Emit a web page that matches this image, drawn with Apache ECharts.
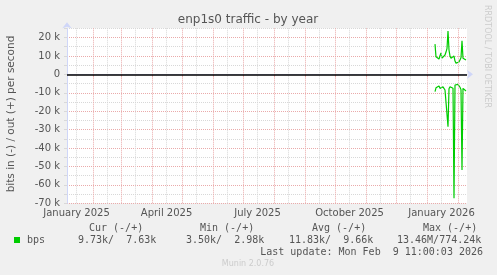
<!DOCTYPE html>
<html><head><meta charset="utf-8">
<script src="https://cdn.jsdelivr.net/npm/echarts@6/dist/echarts.min.js"></script>
<style>html,body{margin:0;padding:0;background:#f0f0f0}#c{width:497px;height:275px}</style>
</head><body><div id="c"></div>
<script>
// ---- data ----
const dates = ['2026-01-08','2026-01-09','2026-01-10','2026-01-11','2026-01-12','2026-01-13','2026-01-14','2026-01-15',
  '2026-01-16','2026-01-17','2026-01-18','2026-01-19','2026-01-20','2026-01-21','2026-01-22','2026-01-23','2026-01-24',
  '2026-01-25','2026-01-26','2026-01-27','2026-01-28','2026-01-29','2026-01-30','2026-01-31','2026-02-01','2026-02-02',
  '2026-02-03','2026-02-04','2026-02-05','2026-02-06','2026-02-07','2026-02-08'];
const bpsOut = [16400,9500,8800,9900,8300,10100,11600,8800,7800,9400,10500,12100,14000,23500,13200,9900,
  8800,8300,9400,9900,7200,6100,6700,6100,6700,6700,9000,18200,8800,7800,8300,7800];
const bpsIn = [9400,7300,6500,7000,6300,7600,6600,7400,6800,7800,8500,9100,9500,28400,7800,6700,
  6200,6500,7500,67300,5800,5200,5400,5400,6000,7000,8300,51900,7600,7600,8500,9000];
const yTickValues = [20000,10000,0,-10000,-20000,-30000,-40000,-50000,-60000,-70000];
const yTickLabels = ['20 k','10 k','0','-10 k','-20 k','-30 k','-40 k','-50 k','-60 k','-70 k'];
const xLabelDates = ['2025-01-15','2025-04-15','2025-07-15','2025-10-15','2026-01-15'];
const xLabelTexts = ['January 2025','April 2025','July 2025','October 2025','January 2026'];
const monthStarts = ['2025-02-01','2025-03-01','2025-04-01','2025-05-01','2025-06-01','2025-07-01','2025-08-01',
  '2025-09-01','2025-10-01','2025-11-01','2025-12-01','2026-01-01','2026-02-01'];
const midMonths = ['2025-01-15','2025-02-15','2025-03-15','2025-04-15','2025-05-15','2025-06-15','2025-07-15',
  '2025-08-15','2025-09-15','2025-10-15','2025-11-15','2025-12-15','2026-01-15'];
const rangeStart = '2025-01-05T11:00:00Z';
const rangeEnd = '2026-02-09T11:00:00Z';
const legendHeaders = ['Cur (-/+)','Min (-/+)','Avg (-/+)','Max (-/+)'];
const legendValues = ['9.73k/  7.63k','3.50k/  2.98k','11.83k/  9.66k','13.46M/774.24k'];
const seriesName = 'bps';
const lastUpdate = 'Last update: Mon Feb  9 11:00:03 2026';

// ---- chart ----
const T = d => Date.parse(d.length === 10 ? d + 'T00:00:00Z' : d);
const P = d => Date.parse(d + 'T11:00:00Z');
const outData = dates.map((d, i) => [P(d), bpsOut[i]]);
const inData = dates.map((d, i) => [P(d), -bpsIn[i]]);
const labelTs = xLabelDates.map(T);

const MAJOR = '#eaaaaa', MINOR = '#d8d8d8', FONT = '#555555', AXIS = '#CFD6F8';
const mono = '10px "DejaVu Sans Mono"';

const markData = []
  .concat(midMonths.map(d => ({xAxis: T(d), lineStyle: {color: MINOR, type: [1, 1], width: 1}})))
  .concat(monthStarts.map(d => ({xAxis: T(d), lineStyle: {color: MAJOR, type: [1, 1], width: 1}})));

const hdrX = [89, 200, 312, 423];
const valX = [78, 186, 289, 397];
const graphics = [
  {type: 'text', x: 248, y: 20, style: {text: 'enp1s0 traffic - by year', font: '12px "DejaVu Sans"', fill: FONT, textAlign: 'center', textVerticalAlign: 'middle'}},
  {type: 'text', x: 11, y: 114, rotation: Math.PI / 2, style: {text: 'bits in (-) / out (+) per second', font: '10.5px "DejaVu Sans"', fill: FONT, textAlign: 'center', textVerticalAlign: 'middle'}},
  {type: 'text', x: 487, y: 5, rotation: -Math.PI / 2, style: {text: 'RRDTOOL / TOBI OETIKER', font: '8px "DejaVu Sans"', fill: '#cccccc', textAlign: 'left', textVerticalAlign: 'middle'}},
  {type: 'text', x: 248, y: 264, style: {text: 'Munin 2.0.76', font: '8px "DejaVu Sans"', fill: '#cccccc', textAlign: 'center', textVerticalAlign: 'middle'}},
  {type: 'rect', shape: {x: 14, y: 237, width: 6, height: 6}, style: {fill: '#00CC00'}},
  {type: 'text', x: 27, y: 240, style: {text: seriesName, font: mono, fill: FONT, textAlign: 'left', textVerticalAlign: 'middle'}},
  {type: 'text', x: 483, y: 252, style: {text: lastUpdate, font: mono, fill: FONT, textAlign: 'right', textVerticalAlign: 'middle'}}
];
legendHeaders.forEach((h, i) => graphics.push({type: 'text', x: hdrX[i], y: 228, style: {text: h, font: mono, fill: FONT, textAlign: 'left', textVerticalAlign: 'middle'}}));
legendValues.forEach((v, i) => graphics.push({type: 'text', x: valX[i], y: 240, style: {text: v, font: mono, fill: FONT, textAlign: 'left', textVerticalAlign: 'middle'}}));

const chart = echarts.init(document.getElementById('c'), null, {renderer: 'canvas'});
chart.setOption({
  animation: false,
  backgroundColor: '#f0f0f0',
  grid: {left: 67, top: 28.3, width: 400, height: 175, show: true, backgroundColor: '#ffffff', borderWidth: 0},
  xAxis: {
    type: 'value', min: T(rangeStart), max: T(rangeEnd),
    axisLine: {show: true, lineStyle: {color: AXIS}, symbol: ['none', 'arrow'], symbolSize: [7, 6], symbolOffset: [0, 6]},
    axisTick: {show: true, customValues: monthStarts.map(T), length: 3, lineStyle: {color: MAJOR}},
    axisLabel: {customValues: labelTs, formatter: v => { const i = labelTs.indexOf(v); return i >= 0 ? xLabelTexts[i] : ''; },
      color: FONT, fontSize: 10, fontFamily: 'DejaVu Sans', margin: 5, hideOverlap: false},
    splitLine: {show: false}
  },
  yAxis: {
    type: 'value', min: -70000, max: 25000, interval: 5000,
    axisLine: {show: true, lineStyle: {color: AXIS}, symbol: ['none', 'arrow'], symbolSize: [7, 6], symbolOffset: [0, 6]},
    axisTick: {show: true, length: 3, lineStyle: {color: MINOR}},
    axisLabel: {formatter: v => { const i = yTickValues.indexOf(v); return i >= 0 ? yTickLabels[i] : ''; },
      color: FONT, fontSize: 10, fontFamily: 'DejaVu Sans', margin: 7},
    splitLine: {show: true, lineStyle: {color: [MAJOR, MINOR], type: [1, 1], width: 1}}
  },
  graphic: graphics,
  series: [
    {type: 'line', data: [], z: 1, silent: true,
     markLine: {silent: true, symbol: 'none', label: {show: false}, animation: false, data: markData.concat([{yAxis: 0, lineStyle: {color: '#000000', type: 'solid', width: 1.5}}])}},
    {name: 'out', type: 'line', data: outData, showSymbol: false, z: 3, lineStyle: {color: '#00CC00', width: 1.2}},
    {name: 'in', type: 'line', data: inData, showSymbol: false, z: 3, lineStyle: {color: '#00CC00', width: 1.2}}
  ]
});
</script></body></html>
